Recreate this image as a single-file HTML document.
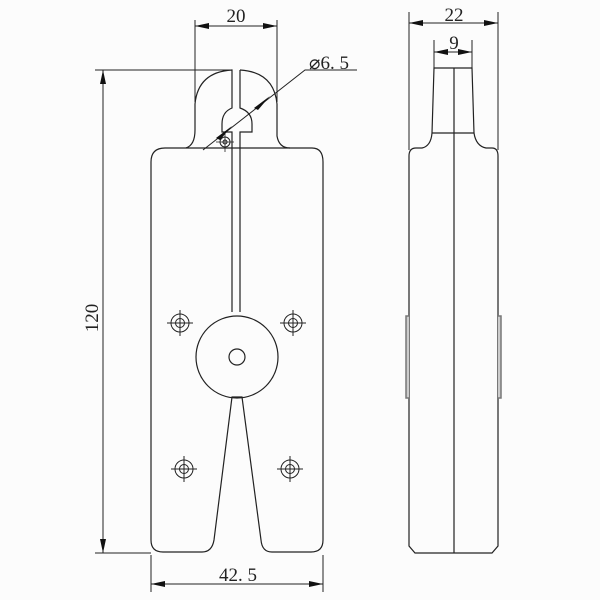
<!DOCTYPE html>
<html><head><style>body{margin:0;background:#fcfcfc}svg{display:block}</style></head><body>
<svg width="600" height="600" viewBox="0 0 600 600" xmlns="http://www.w3.org/2000/svg" font-family="'Liberation Serif',serif" fill="none" stroke="#222" stroke-width="1.2">
<rect width="600" height="600" fill="#fcfcfc" stroke="none"/>
<!-- front body -->
<path d="M186,148 Q195,145 195,130 L195,104 Q198,72 232,70 L232,108 Q222,112 222,124 L222,132 L232,132 L232,312"/>
<path d="M240,70 Q274,72 277,104 L277,136 Q279,148 290,148"/>
<path d="M240,70 L240,108 Q252,112 252,124 L252,132 L240,132 L240,312"/>
<path d="M165,148 L312,148 Q323,148 323,162 L323,540 Q323,552 311,552 L272,552 Q262,552 261,540 L242,397 L232,397 L214,540 Q212,552 202,552 L163,552 Q151,552 151,540 L151,162 Q151,148 165,148 Z"/>
<circle cx="237" cy="357" r="41"/>
<circle cx="237" cy="357" r="8"/>
<circle cx="225" cy="142" r="5" stroke-width="1"/>
<circle cx="225" cy="142" r="2" stroke-width="1"/>
<path d="M225,134 V152 M216,142 H234" stroke-width="0.8"/>
<g stroke-width="1">
<g transform="translate(180,323)"><circle r="9"/><circle r="4.5"/><path d="M-13,0H13M0,-13V13"/></g>
<g transform="translate(293,323)"><circle r="9"/><circle r="4.5"/><path d="M-13,0H13M0,-13V13"/></g>
<g transform="translate(184,469)"><circle r="9"/><circle r="4.5"/><path d="M-13,0H13M0,-13V13"/></g>
<g transform="translate(290,469)"><circle r="9"/><circle r="4.5"/><path d="M-13,0H13M0,-13V13"/></g>
</g>
<!-- dims front -->
<g stroke-width="1">
<path d="M95,70 H232 M95,553 H151 M103,70 V553"/>
<path d="M195,20 V102 M277,20 V102 M195,26 H277"/>
<path d="M151,555 V592 M323,555 V592 M151,584 H323"/>
<path d="M203,150 L305,70 H357"/>
</g>
<g fill="#111" stroke="none">
<path d="M103,70 l-3,14 h6z M103,553 l-3,-14 h6z"/>
<path d="M195,26 l14,-3 v6z M277,26 l-14,-3 v6z"/>
<path d="M151,584 l14,-3 v6z M323,584 l-14,-3 v6z"/>
<polygon points="254,108 270,96 258,110"/>
<polygon points="216,138 232,126 220,140"/>
</g>
<g fill="#222" stroke="none" font-size="19">
<text x="236" y="22" text-anchor="middle">20</text>
<text x="238" y="581" text-anchor="middle">42. 5</text>
<text x="309" y="69">⌀6. 5</text>
<text transform="translate(98,318) rotate(-90)" text-anchor="middle">120</text>
<text x="454" y="21" text-anchor="middle">22</text>
<text x="454" y="49" text-anchor="middle">9</text>
</g>
<!-- side view -->
<path d="M434,68 H472 L474,133 Q476,146 486,148 L492,148 Q498,148 498,156 L498,546 L492,553 L415,553 L409,546 L409,156 Q409,148 416,148 L422,148 Q431,146 432,133 Z"/>
<path d="M432,133 H474 M454,68 V553"/>
<path d="M409,316 H406 V398 H409 M498,316 H501 V398 H498" stroke="#777" stroke-width="1.5" fill="#ccc"/>
<g stroke-width="1"><path d="M409,12 V150 M498,12 V150 M409,23 H498 M434,40 V70 M472,40 V70 M434,52 H472"/></g>
<g fill="#111" stroke="none">
<path d="M409,23 l14,-3 v6z M498,23 l-14,-3 v6z M434,52 l14,-3 v6z M472,52 l-14,-3 v6z"/>
</g>
</svg>
</body></html>
